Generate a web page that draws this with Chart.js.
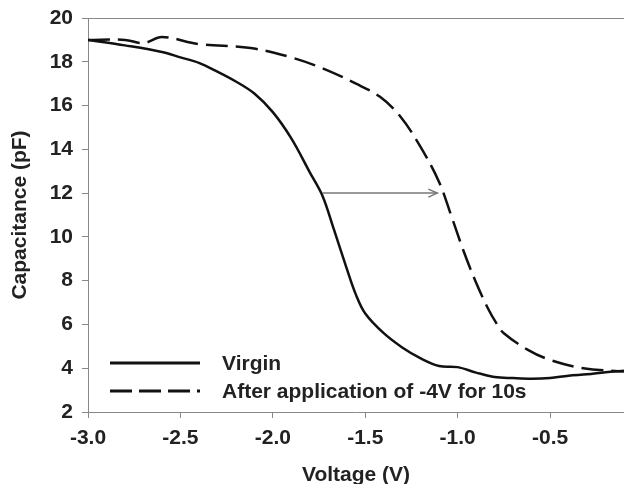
<!DOCTYPE html>
<html lang="en">
<head>
  <meta charset="UTF-8" />
  <title>C-V curve</title>
  <script src="https://cdn.jsdelivr.net/npm/chart.js"></script>
  <style>
    html, body { margin: 0; padding: 0; background: #fff; }
    #wrap { width: 624px; height: 484px; position: relative; }
  </style>
</head>
<body>
  <div id="wrap"><canvas id="chart"></canvas></div>
  <script>
    // values
    const virginV = [-3.0, -2.8, -2.6, -2.5, -2.4, -2.3, -2.2, -2.1, -2.0, -1.9, -1.8, -1.73, -1.67, -1.6, -1.55, -1.5, -1.4, -1.3, -1.2, -1.1, -1.0, -0.9, -0.8, -0.7, -0.6, -0.5, -0.4, -0.3, -0.2, -0.1];
    const virginC = [19.0, 18.75, 18.45, 18.2, 17.95, 17.55, 17.1, 16.55, 15.7, 14.5, 12.95, 11.85, 10.35, 8.55, 7.35, 6.5, 5.6, 4.95, 4.45, 4.1, 4.05, 3.8, 3.6, 3.55, 3.52, 3.55, 3.66, 3.72, 3.82, 3.88];
    const afterV = [-3.0, -2.8, -2.7, -2.6, -2.4, -2.12, -1.9, -1.73, -1.55, -1.42, -1.31, -1.2, -1.1, -1.04, -0.97, -0.9, -0.84, -0.79, -0.75, -0.62, -0.5, -0.32, -0.1];
    const afterC = [19.0, 19.0, 18.85, 19.13, 18.81, 18.63, 18.2, 17.7, 17.0, 16.4, 15.5, 14.1, 12.5, 11.1, 9.4, 7.9, 6.8, 6.05, 5.6, 4.84, 4.38, 4.0, 3.85];
    const arrowV = [-1.73, -1.11];
    const arrowC = [12, 12];
    const xTicks = [-3.0, -2.5, -2.0, -1.5, -1.0, -0.5];
    const seriesNames = ["Virgin", "After application of -4V for 10s"];

    const font = { family: "'Liberation Sans', Arial, sans-serif", size: 21, weight: "bold" };
    const ink = "#111";
    const axisGray = "#888";

    function pts(xs, ys) { return xs.map((v, i) => ({ x: v, y: ys[i] })); }

    // legend inside plot, top frame line, arrow head
    const extras = {
      id: "extras",
      afterDatasetsDraw(chart) {
        const ctx = chart.ctx, a = chart.chartArea;
        const xs = chart.scales.x, ys = chart.scales.y;
        ctx.save();
        // top frame
        ctx.strokeStyle = axisGray;
        ctx.lineWidth = 1;
        ctx.beginPath();
        ctx.moveTo(a.left, a.top + 0.5);
        ctx.lineTo(a.right, a.top + 0.5);
        ctx.stroke();
        // arrow head
        const tx = xs.getPixelForValue(arrowV[1]), ty = ys.getPixelForValue(arrowC[1]);
        ctx.strokeStyle = "#777";
        ctx.lineWidth = 1.5;
        ctx.beginPath();
        ctx.moveTo(tx - 9, ty - 4);
        ctx.lineTo(tx, ty);
        ctx.lineTo(tx - 9, ty + 4);
        ctx.stroke();
        // legend
        const dashes = [[], [22, 7]];
        const rows = [363, 391];
        ctx.font = font.weight + " " + font.size + "px " + font.family;
        ctx.textBaseline = "middle";
        ctx.fillStyle = "#222";
        seriesNames.forEach((name, i) => {
          ctx.strokeStyle = ink;
          ctx.lineWidth = 3;
          ctx.setLineDash(dashes[i]);
          ctx.beginPath();
          ctx.moveTo(a.left + 22, rows[i]);
          ctx.lineTo(a.left + 112, rows[i]);
          ctx.stroke();
          ctx.setLineDash([]);
          ctx.fillText(name, a.left + 134, rows[i] + 1);
        });
        ctx.restore();
      }
    };

    new Chart(document.getElementById("chart"), {
      type: "line",
      data: {
        datasets: [
          { label: seriesNames[0], data: pts(virginV, virginC), borderColor: ink, borderWidth: 2.5, pointRadius: 0, tension: 0.35 },
          { label: seriesNames[1], data: pts(afterV, afterC), borderColor: ink, borderWidth: 2.5, borderDash: [22, 8], pointRadius: 0, tension: 0.35 },
          { label: "shift", data: pts(arrowV, arrowC), borderColor: "#777", borderWidth: 1.5, pointRadius: 0 }
        ]
      },
      options: {
        responsive: true,
        maintainAspectRatio: false,
        animation: false,
        layout: { padding: { top: 18, right: 0, left: 0, bottom: 0 } },
        plugins: { legend: { display: false }, tooltip: { enabled: false } },
        scales: {
          x: {
            type: "linear", min: -3.0, max: -0.1,
            afterBuildTicks: s => { s.ticks = xTicks.map(v => ({ value: v })); },
            afterFit: s => { s.height = 72; s.paddingLeft = 0; s.paddingRight = 0; },
            grid: { drawOnChartArea: false, color: axisGray, tickLength: 6 },
            border: { color: axisGray },
            ticks: { color: "#222", font: font, padding: 8, maxRotation: 0, callback: v => v.toFixed(1) },
            title: { display: true, text: "Voltage (V)", color: "#222", font: font, padding: { top: 0, bottom: -4 } }
          },
          y: {
            min: 2, max: 20,
            afterFit: s => { s.width = 88; s.paddingTop = 0; s.paddingBottom = 0; },
            grid: { drawOnChartArea: false, color: axisGray, tickLength: 6 },
            border: { color: axisGray },
            ticks: { stepSize: 2, color: "#222", font: font, padding: 9 },
            title: { display: true, text: "Capacitance (pF)", color: "#222", font: font, padding: { top: 8, bottom: 0 } }
          }
        }
      },
      plugins: [extras]
    });
  </script>
</body>
</html>
